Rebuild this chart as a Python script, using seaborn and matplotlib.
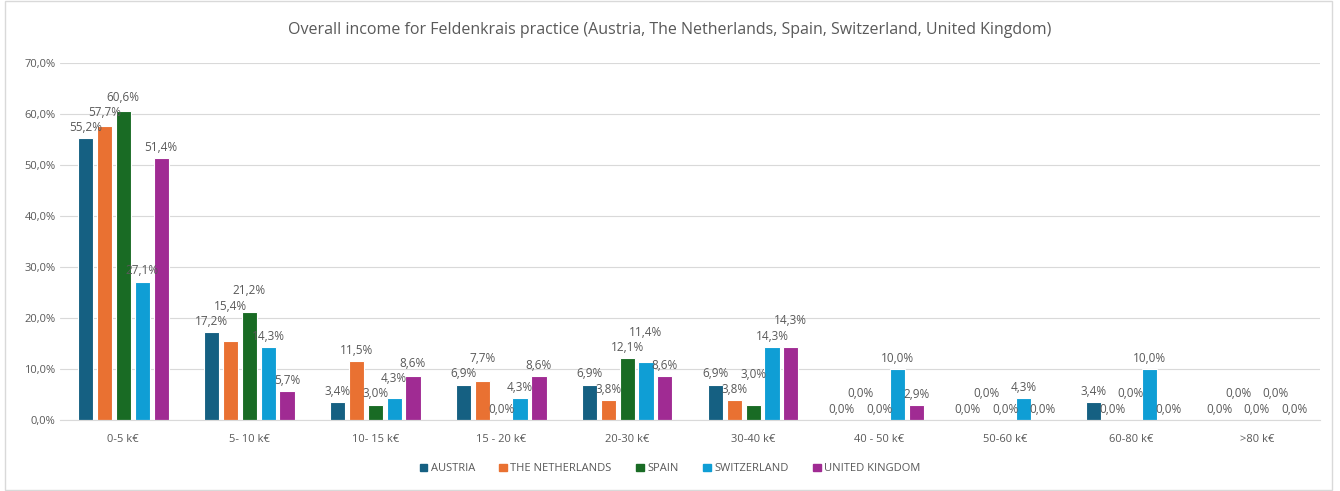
"""Grouped bar chart of overall income for Feldenkrais practice"""

import matplotlib.pyplot as plt
import matplotlib.patches as mpatches
import pandas as pd
import seaborn as sns
from matplotlib.ticker import FuncFormatter

categories = ["0-5 k€", "5- 10 k€", "10- 15 k€", "15 - 20 k€", "20-30 k€",
              "30-40 k€", "40 - 50 k€", "50-60 k€", "60-80 k€", ">80 k€"]
countries = ["AUSTRIA", "THE NETHERLANDS", "SPAIN", "SWITZERLAND", "UNITED KINGDOM"]

austria = [55.2, 17.2, 3.4, 6.9, 6.9, 6.9, 0.0, 0.0, 3.4, 0.0]
netherlands = [57.7, 15.4, 11.5, 7.7, 3.8, 3.8, 0.0, 0.0, 0.0, 0.0]
spain = [60.6, 21.2, 3.0, 0.0, 12.1, 3.0, 0.0, 0.0, 0.0, 0.0]
switzerland = [27.1, 14.3, 4.3, 4.3, 11.4, 14.3, 10.0, 4.3, 10.0, 0.0]
united_kingdom = [51.4, 5.7, 8.6, 8.6, 8.6, 14.3, 2.9, 0.0, 0.0, 0.0]

colors = ["#156082", "#E97132", "#196B24", "#0F9ED5", "#A02B93"]

series = [austria, netherlands, spain, switzerland, united_kingdom]
df = pd.DataFrame(
    [
        {"income": cat, "country": country, "share": val}
        for country, values in zip(countries, series)
        for cat, val in zip(categories, values)
    ]
)


def pct(v):
    return f"{v:.1f}%".replace(".", ",")


sns.set_style("white")
plt.rcParams["font.family"] = ["Open Sans", "DejaVu Sans"]

fig = plt.figure(figsize=(13.4, 4.91), dpi=100)
ax = fig.add_axes([0.045, 0.145, 0.94, 0.727])

sns.barplot(
    data=df, x="income", y="share", hue="country", order=categories,
    hue_order=countries, palette=colors, saturation=1, width=0.75, gap=0.2,
    edgecolor="white", linewidth=0.8, ax=ax, legend=False,
)

text_color = "#595959"

# data labels, nudged upward when they would collide with the left neighbour
step = 3.0
for i in range(len(categories)):
    prev_y = None
    for container in ax.containers:
        bar = container.patches[i]
        y = bar.get_height()
        if prev_y is not None and abs(y - prev_y) < step:
            y = prev_y + step
        prev_y = y
        ax.annotate(
            pct(bar.get_height()), (bar.get_x() + bar.get_width() / 2, y),
            xytext=(0, 3), textcoords="offset points", ha="center",
            va="bottom", fontsize=8.5, color=text_color,
        )

ax.set_ylim(0, 70)
ax.set_yticks(range(0, 71, 10))
ax.yaxis.set_major_formatter(FuncFormatter(lambda v, _: pct(v)))
ax.grid(axis="y", color="#d9d9d9", linewidth=0.8)
ax.set_axisbelow(True)
ax.set_xlabel("")
ax.set_ylabel("")
ax.tick_params(axis="both", length=0, labelsize=8, colors=text_color)
ax.tick_params(axis="x", pad=10)
for side in ["top", "right", "left"]:
    ax.spines[side].set_visible(False)
ax.spines["bottom"].set_color("#d9d9d9")

fig.suptitle(
    "Overall income for Feldenkrais practice (Austria, The Netherlands, Spain, "
    "Switzerland, United Kingdom)",
    y=0.955, fontsize=11.5, color=text_color,
)

handles = [mpatches.Patch(color=c, label=n) for c, n in zip(colors, countries)]
fig.legend(
    handles=handles, loc="center", bbox_to_anchor=(0.5, 0.045), ncol=5,
    frameon=False, fontsize=8, handlelength=0.7, handleheight=0.7,
    handletextpad=0.3, columnspacing=2.2, labelcolor=text_color,
)

fig.patches.append(mpatches.Rectangle(
    (0.004, 0.002), 0.99, 0.996, transform=fig.transFigure, fill=False,
    edgecolor="#d9d9d9", linewidth=1,
))

plt.savefig("out.png", dpi=100)
plt.close(fig)
